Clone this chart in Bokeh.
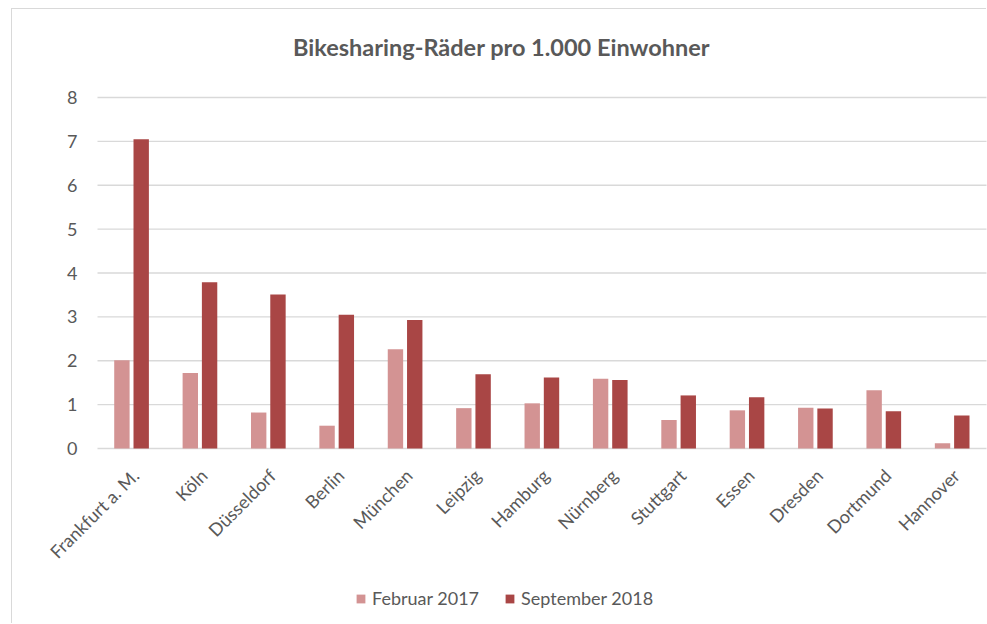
from bokeh.plotting import figure
from bokeh.models import ColumnDataSource, Range1d, Legend, LegendItem
from bokeh.core.properties import value
from bokeh.embed import file_html
from bokeh.resources import INLINE
import math

cities = ["Frankfurt a. M.", "Köln", "Düsseldorf", "Berlin", "München", "Leipzig",
          "Hamburg", "Nürnberg", "Stuttgart", "Essen", "Dresden", "Dortmund", "Hannover"]
feb_2017 = [2.01, 1.72, 0.82, 0.52, 2.26, 0.92, 1.03, 1.59, 0.65, 0.87, 0.93, 1.33, 0.12]
sep_2018 = [7.05, 3.79, 3.51, 3.05, 2.93, 1.69, 1.62, 1.56, 1.21, 1.17, 0.91, 0.85, 0.75]
y_ticks = [0, 1, 2, 3, 4, 5, 6, 7, 8]
y_labels = [str(t) for t in y_ticks]
series_names = ["Februar 2017", "September 2018"]
title_text = "Bikesharing-Räder pro 1.000 Einwohner"

FONT = "Lato"
TXT = "#595959"
LIGHT = "#D39393"
DARK = "#A94645"
GRID = "#D9D9D9"

n = len(cities)
idx = list(range(n))
src = ColumnDataSource(dict(
    pos_a=[i + 0.5 - 0.143 for i in idx],
    pos_b=[i + 0.5 + 0.139 for i in idx],
    feb=feb_2017, sep=sep_2018))
lab_src = ColumnDataSource(dict(x=[i + 0.5 for i in idx], y=[0] * n, city=cities))
tick_src = ColumnDataSource(dict(x0=[0] * len(y_ticks), x1=[n + 0.02] * len(y_ticks),
                                 y=y_ticks, lab=y_labels))

# category slots 0..13 and values 0..8; the extra room around them holds
# the value labels, the title, the rotated category names and the legend
p = figure(x_range=Range1d(-1.243, n), y_range=Range1d(-4.011, 10.006),
           frame_width=974, frame_height=615, output_backend="svg", toolbar_location=None,
           min_border_left=0, min_border_right=1, min_border_top=0, min_border_bottom=0)
p.margin = (9, 0, 0, 12)
p.styles = {"box-shadow": "-1px -1px 0 0 #D9D9D9"}
p.outline_line_color = None
p.background_fill_color = "white"
p.border_fill_color = "white"
p.xaxis.visible = False
p.yaxis.visible = False
p.grid.visible = False

# horizontal gridlines and value labels
p.segment(x0="x0", x1="x1", y0="y", y1="y", source=tick_src,
          line_color=GRID, line_width=1.3)
p.text(x="x0", y="y", text="lab", source=tick_src, x_offset=-20,
       text_align="right", text_baseline="middle",
       text_font=value(FONT), text_font_size="18px", text_color=TXT)

r1 = p.vbar(x="pos_a", top="feb", width=0.225, source=src, fill_color=LIGHT, line_color=None)
r2 = p.vbar(x="pos_b", top="sep", width=0.225, source=src, fill_color=DARK, line_color=None)

# rotated category names under the bars
p.text(x="x", y="y", text="city", source=lab_src, angle=math.pi / 4,
       text_align="right", text_baseline="top", x_offset=-4, y_offset=16,
       text_font=value(FONT), text_font_size="18px", text_color=TXT)

# chart title
p.text(x=[5.908], y=[9.14], text=[title_text], text_align="center",
       text_baseline="alphabetic", text_font=value(FONT), text_font_style="bold",
       text_font_size="23.5px", text_color=TXT)

legend = Legend(items=[LegendItem(label=series_names[0], renderers=[r1]),
                       LegendItem(label=series_names[1], renderers=[r2])],
                orientation="horizontal", location=(343, 15),
                glyph_width=11, glyph_height=11, label_standoff=6, spacing=25,
                padding=0, margin=0, border_line_color=None, background_fill_alpha=0,
                label_text_font=FONT, label_text_font_size="18px", label_text_color=TXT)
p.add_layout(legend, "center")

open("out.html", "w").write(file_html(p, INLINE))
